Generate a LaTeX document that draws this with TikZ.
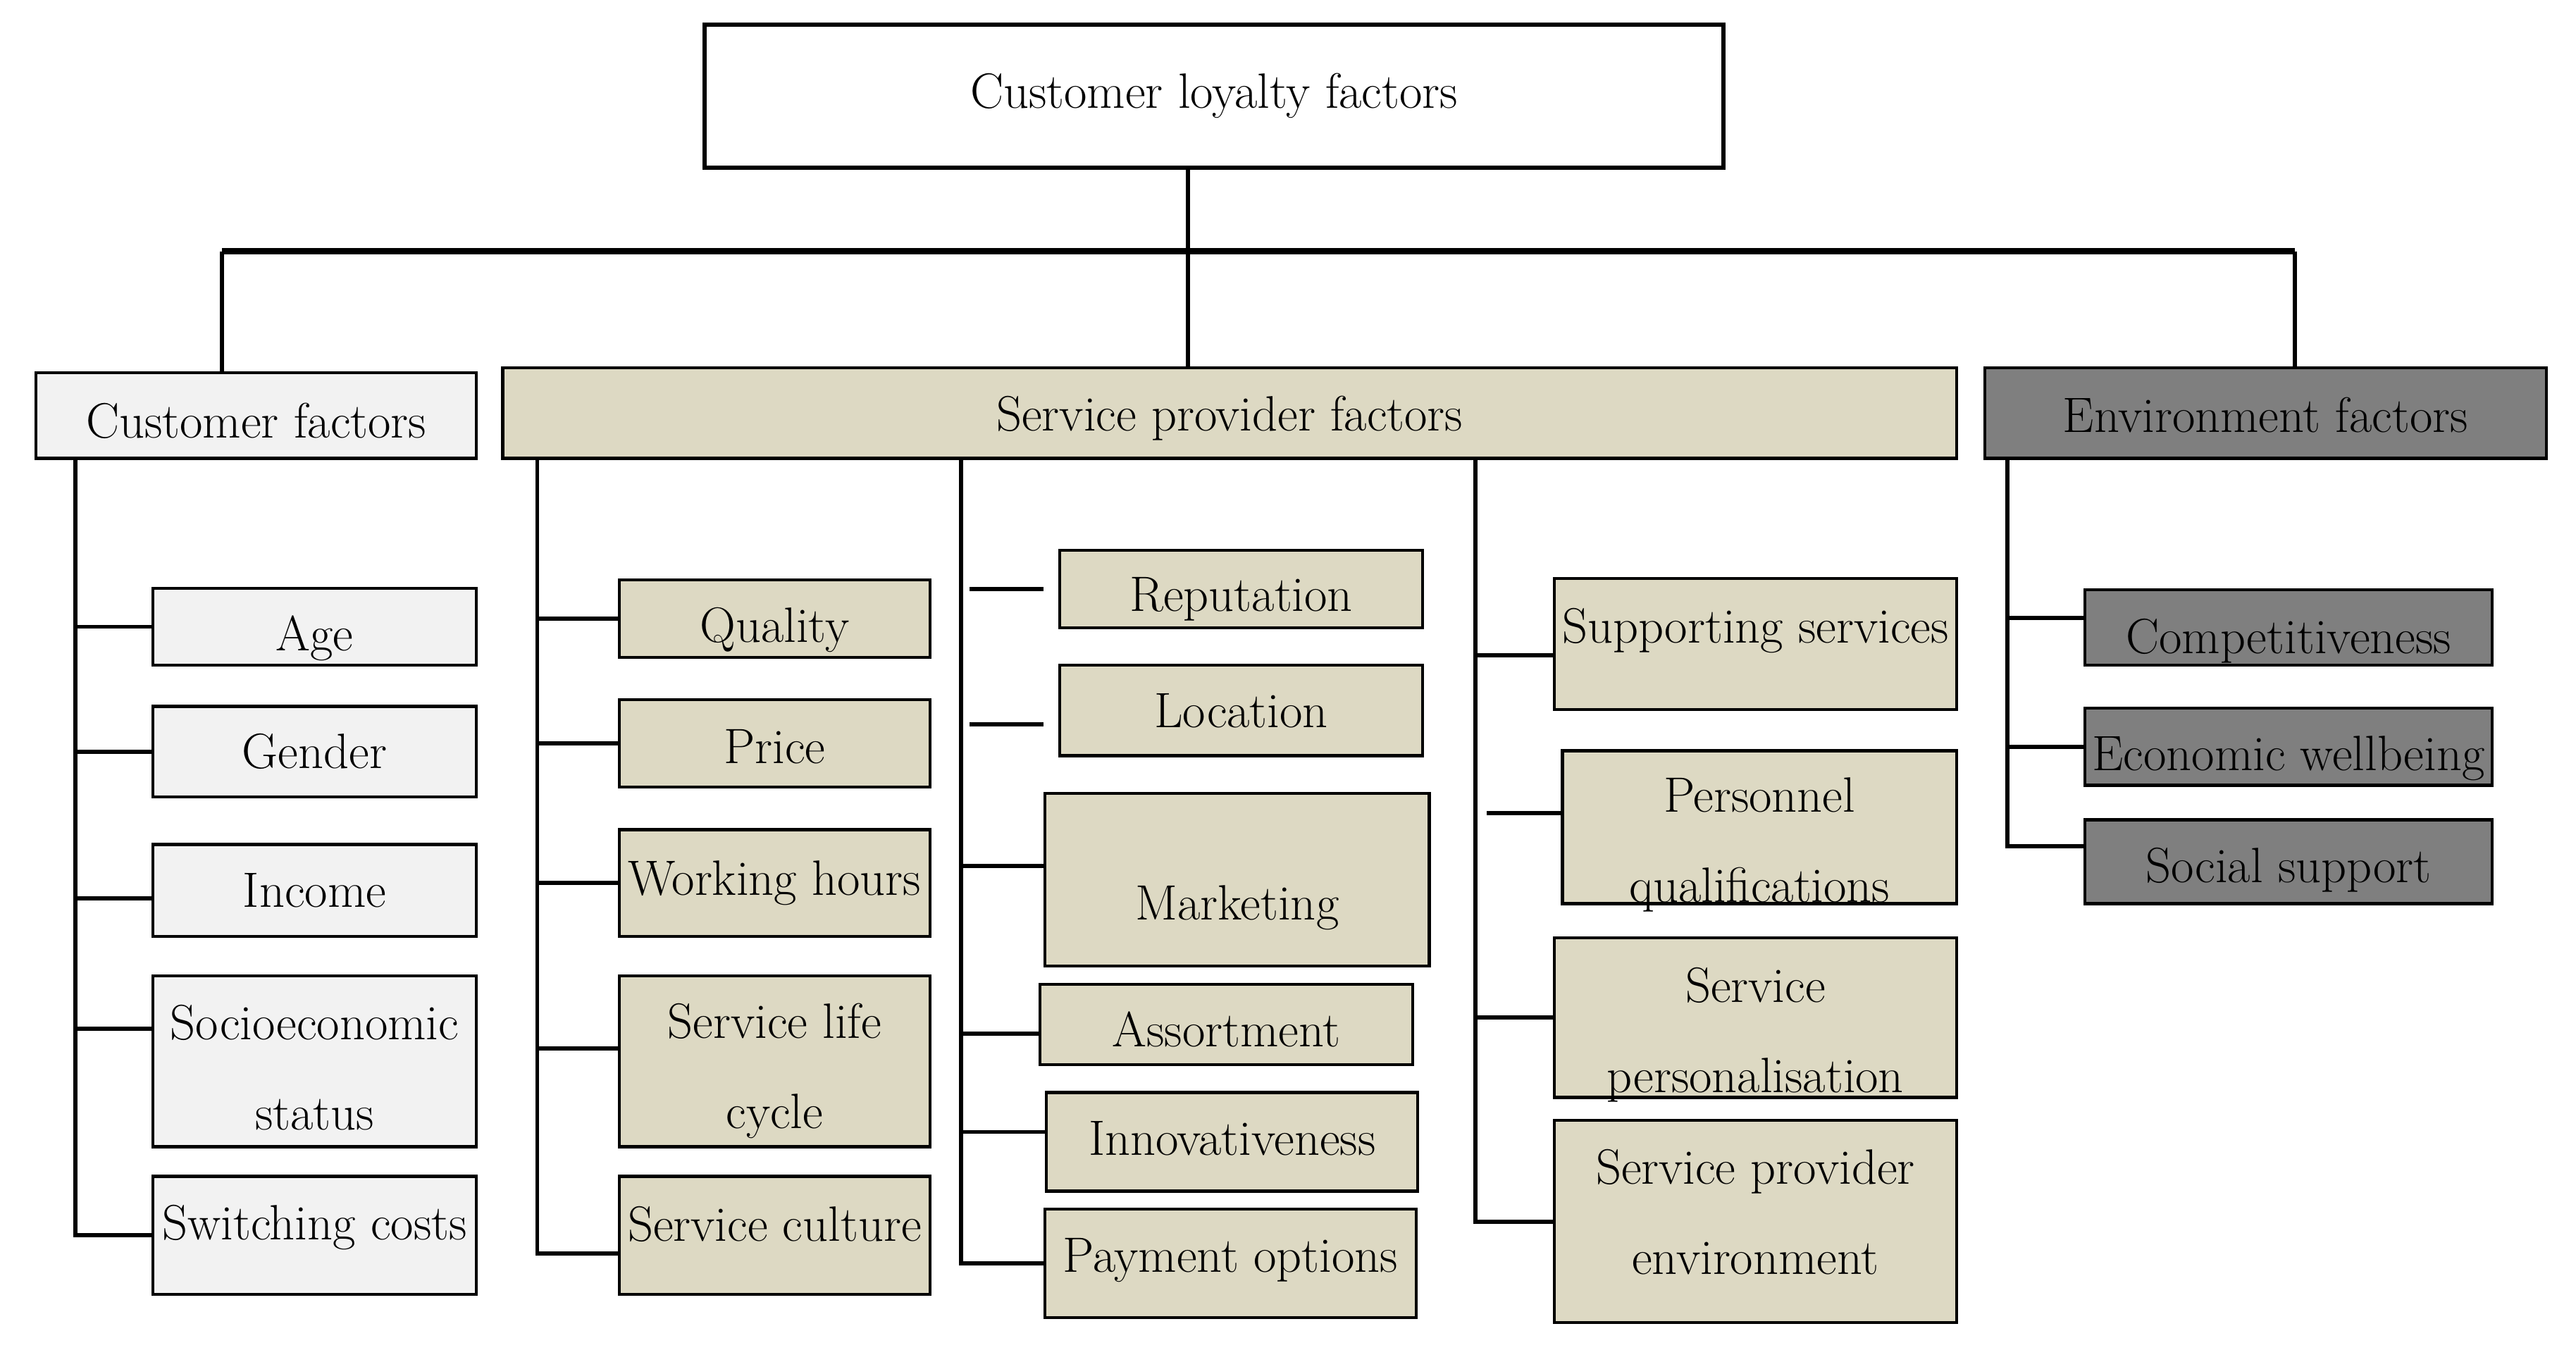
\documentclass[tikz,border=0pt]{standalone}
\usepackage{fontspec}
\usepackage{xcolor}
\usepackage{tikz}
\usetikzlibrary{positioning,calc}
\definecolor{custfill}{HTML}{F2F2F2}
\definecolor{servfill}{HTML}{DDD9C3}
\definecolor{envfill}{HTML}{7F7F7F}
% move a label up or down inside its box without changing the box
\newcommand{\nudge}[2]{\raisebox{#1}[\height][\depth]{#2}}

\begin{document}
\begin{tikzpicture}[
  box/.style={draw=black, line width=1.3pt, align=center, inner sep=1pt, font=\fontsize{21.5}{39}\selectfont},
  custbox/.style={box, fill=custfill},
  servbox/.style={box, fill=servfill},
  envbox/.style={box, fill=envfill},
  lowlines/.style={text height=#1, text depth=0pt},
  conn/.style={black, line width=1.8pt},
  bus/.style={black, line width=2.6pt}
]
\useasboundingbox (0,0) rectangle (39.2,20.725);

% ---- Root ----
\node[box, line width=1.8pt, minimum width=15.5cm, minimum height=2.175cm] (root) at (18.475,19.2625) {Customer loyalty factors};

% ---- Main groups ----
\node[custbox, minimum width=6.7cm, minimum height=1.3cm] (cust) at (3.9,14.4) {\nudge{-0.75mm}{Customer factors}};
\node[servbox, minimum width=22.125cm, minimum height=1.375cm] (serv) at (18.7125,14.4375) {\nudge{-0.75mm}{Service provider factors}};
\node[envbox, minimum width=8.55cm, minimum height=1.375cm] (env) at (34.475,14.4375) {\nudge{-0.25mm}{Environment factors}};

\coordinate (busL) at (3.375,16.9);
\coordinate (busM) at (18.075,16.9);
\coordinate (busR) at (34.925,16.9);

\draw[conn] (root.south -| busM) -- (serv.north -| busM);
\draw[bus] (busL) -- (busR);
\draw[conn] (busL) -- (busL |- cust.north);
\draw[conn] (busR) -- (busR |- env.north);

% ---- Customer factors ----
\coordinate (cspine) at (1.15,0);
\node[custbox, minimum width=4.925cm, minimum height=1.175cm] (age) at (4.7875,11.1875) {\nudge{-1.75mm}{Age}};
\node[custbox, minimum width=4.925cm, minimum height=1.375cm] (gender) at (4.7875,9.2875) {Gender};
\node[custbox, minimum width=4.925cm, minimum height=1.4cm] (income) at (4.7875,7.175) {Income};
\node[custbox, minimum width=4.925cm, minimum height=2.6cm] (socio) at (4.7875,4.575) {\rule{0pt}{20.7pt}Socioeconomic\\status};
\node[custbox, minimum width=4.925cm, minimum height=1.8cm] (switch) at (4.7875,1.925) {\nudge{1.25mm}{Switching costs}};

\draw[conn] (cust.south -| cspine) -- (cspine |- switch.west) -- (switch.west);
\draw[conn] (cspine |- age.west) -- (age.west);
\draw[conn] (cspine |- gender.west) -- (gender.west);
\draw[conn] ([yshift=-1.25mm]income.west -| cspine) -- ([yshift=-1.25mm]income.west);
\draw[conn] ([yshift=5mm]socio.west -| cspine) -- ([yshift=5mm]socio.west);

% ---- Service provider factors, first column ----
\coordinate (sAspine) at (8.175,0);
\node[servbox, minimum width=4.725cm, minimum height=1.175cm] (quality) at (11.7875,11.3125) {\nudge{-1.75mm}{Quality}};
\node[servbox, minimum width=4.725cm, minimum height=1.325cm] (price) at (11.7875,9.4125) {\nudge{-0.5mm}{Price}};
\node[servbox, minimum width=4.725cm, minimum height=1.625cm] (hours) at (11.7875,7.2875) {Working hours};
\node[servbox, minimum width=4.725cm, minimum height=2.6cm] (life) at (11.7875,4.575) {\rule{0pt}{23.5pt}Service life\\cycle};
\node[servbox, minimum width=4.725cm, minimum height=1.8cm] (culture) at (11.7875,1.925) {\nudge{1.75mm}{Service culture}};

\draw[conn] (serv.south -| sAspine) -- ([yshift=-2.75mm]culture.west -| sAspine) -- ([yshift=-2.75mm]culture.west);
\draw[conn] (sAspine |- quality.west) -- (quality.west);
\draw[conn] (sAspine |- price.west) -- (price.west);
\draw[conn] (sAspine |- hours.west) -- (hours.west);
\draw[conn] ([yshift=2mm]life.west -| sAspine) -- ([yshift=2mm]life.west);

% ---- Service provider factors, second column ----
\coordinate (sBspine) at (14.625,0);
\node[servbox, minimum width=5.525cm, minimum height=1.175cm] (reput) at (18.8875,11.7625) {\nudge{-1.5mm}{Reputation}};
\node[servbox, minimum width=5.525cm, minimum height=1.375cm] (locat) at (18.8875,9.9125) {Location};
\node[servbox, minimum width=5.85cm, minimum height=2.625cm] (market) at (18.825,7.3375) {\nudge{-4.2mm}{Marketing}};
\node[servbox, minimum width=5.675cm, minimum height=1.225cm] (assort) at (18.6625,5.1375) {\nudge{-0.75mm}{Assortment}};
\node[servbox, minimum width=5.65cm, minimum height=1.5cm] (innov) at (18.75,3.35) {\nudge{0.5mm}{Innovativeness}};
\node[servbox, minimum width=5.65cm, minimum height=1.65cm] (payment) at (18.725,1.5) {\nudge{0.5mm}{Payment options}};

\draw[conn] (serv.south -| sBspine) -- (sBspine |- payment.west) -- (payment.west);
\draw[conn, shorten <=1.25mm, shorten >=2.25mm] (sBspine |- reput.west) -- (reput.west);
\draw[conn, shorten <=1.25mm, shorten >=2.25mm] ([yshift=-2.125mm]locat.west -| sBspine) -- ([yshift=-2.125mm]locat.west);
\draw[conn] ([yshift=2.125mm]market.west -| sBspine) -- ([yshift=2.125mm]market.west);
\draw[conn] ([yshift=-1.375mm]assort.west -| sBspine) -- ([yshift=-1.375mm]assort.west);
\draw[conn] ([yshift=1.5mm]innov.west -| sBspine) -- ([yshift=1.5mm]innov.west);

% ---- Service provider factors, third column ----
\coordinate (sCspine) at (22.45,0);
\node[servbox, minimum width=6.125cm, minimum height=2cm] (support) at (26.7125,10.925) {\nudge{2mm}{Supporting services}};
\node[servbox, lowlines=65pt, inner sep=0pt, minimum width=6cm, minimum height=2.325cm] (personnel) at (26.775,8.1375) {Personnel\\qualifications};
\node[servbox, lowlines=64.5pt, minimum width=6.125cm, minimum height=2.425cm] (personal) at (26.7125,5.2375) {Service\\personalisation};
\node[servbox, minimum width=6.125cm, minimum height=3.075cm] (provenv) at (26.7125,2.1375) {Service provider\\environment\rule[-8.5pt]{0pt}{8.5pt}};

\draw[conn] (serv.south -| sCspine) -- (sCspine |- provenv.west) -- (provenv.west);
\draw[conn] ([yshift=-1.75mm]support.west -| sCspine) -- ([yshift=-1.75mm]support.west);
\draw[conn, shorten <=1.75mm] ([yshift=2.125mm]personnel.west -| sCspine) -- ([yshift=2.125mm]personnel.west);
\draw[conn] (sCspine |- personal.west) -- (personal.west);

% ---- Environment factors ----
\coordinate (espine) at (30.55,0);
\node[envbox, minimum width=6.2cm, minimum height=1.15cm] (compet) at (34.825,11.175) {\nudge{-2mm}{Competitiveness}};
\node[envbox, minimum width=6.2cm, minimum height=1.175cm] (econ) at (34.825,9.3625) {\nudge{-1.75mm}{Economic wellbeing}};
\node[envbox, minimum width=6.2cm, minimum height=1.275cm] (social) at (34.825,7.6125) {\nudge{-1.25mm}{Social support}};

\draw[conn] (env.south -| espine) -- ([yshift=2.375mm]social.west -| espine) -- ([yshift=2.375mm]social.west);
\draw[conn] ([yshift=1.5mm]compet.west -| espine) -- ([yshift=1.5mm]compet.west);
\draw[conn] (espine |- econ.west) -- (econ.west);

\end{tikzpicture}
\end{document}
